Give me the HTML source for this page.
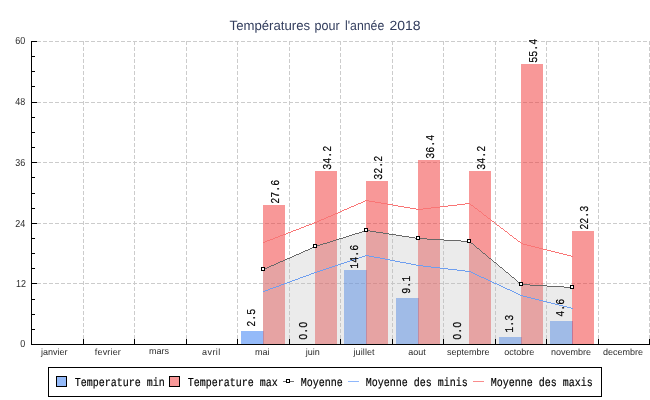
<!DOCTYPE html>
<html><head><meta charset="utf-8"><title>Températures pour l'année 2018</title>
<style>
html,body{margin:0;padding:0;background:#fff}
body{width:650px;height:400px;overflow:hidden;position:relative}
svg{display:block;position:absolute;left:0;top:0;will-change:transform}
text{font-family:"Liberation Sans",sans-serif;text-rendering:geometricPrecision}
.m{font-family:"Liberation Mono",monospace;font-size:10px;fill:#000;text-rendering:geometricPrecision;stroke:#000;stroke-width:0.14px}
.xl{font-size:9px;fill:#2c2c2c;text-anchor:middle}
.yl{font-size:10.2px;fill:#2c2c2c;text-anchor:end}
.ce{shape-rendering:crispEdges}
</style></head><body>
<svg width="650" height="400" viewBox="0 0 650 400">
<rect x="0" y="0" width="650" height="400" fill="#ffffff"/>
<text transform="translate(229.6 30.2) scale(0.990 1)" font-size="13.3px" fill="#323d5d">Températures</text>
<text transform="translate(314.4 30.2) scale(0.946 1)" font-size="13.3px" fill="#323d5d">pour</text>
<text transform="translate(345.0 30.2) scale(0.924 1)" font-size="13.3px" fill="#323d5d">l'année</text>
<text transform="translate(389.4 30.2) scale(1.055 1)" font-size="13.3px" fill="#323d5d">2018</text>
<g class="ce" stroke="#cccccc" stroke-width="1" stroke-dasharray="4 2" fill="none">
<line x1="31" y1="41.5" x2="650" y2="41.5"/>
<line x1="31" y1="102.5" x2="650" y2="102.5"/>
<line x1="31" y1="162.5" x2="650" y2="162.5"/>
<line x1="31" y1="223.5" x2="650" y2="223.5"/>
<line x1="31" y1="283.5" x2="650" y2="283.5"/>
<line x1="83.5" y1="41" x2="83.5" y2="344"/>
<line x1="134.5" y1="41" x2="134.5" y2="344"/>
<line x1="186.5" y1="41" x2="186.5" y2="344"/>
<line x1="237.5" y1="41" x2="237.5" y2="344"/>
<line x1="289.5" y1="41" x2="289.5" y2="344"/>
<line x1="340.5" y1="41" x2="340.5" y2="344"/>
<line x1="392.5" y1="41" x2="392.5" y2="344"/>
<line x1="443.5" y1="41" x2="443.5" y2="344"/>
<line x1="495.5" y1="41" x2="495.5" y2="344"/>
<line x1="546.5" y1="41" x2="546.5" y2="344"/>
<line x1="598.5" y1="41" x2="598.5" y2="344"/>
<line x1="649.5" y1="41" x2="649.5" y2="344"/>
</g>
<g class="ce">
<rect x="241" y="331" width="23" height="13" fill="rgba(41,117,243,0.5)"/>
<rect x="263" y="205" width="22" height="139" fill="rgba(241,49,49,0.5)"/>
<rect x="315" y="171" width="22" height="173" fill="rgba(241,49,49,0.5)"/>
<rect x="344" y="270" width="23" height="74" fill="rgba(41,117,243,0.5)"/>
<rect x="366" y="181" width="22" height="163" fill="rgba(241,49,49,0.5)"/>
<rect x="396" y="298" width="23" height="46" fill="rgba(41,117,243,0.5)"/>
<rect x="418" y="160" width="22" height="184" fill="rgba(241,49,49,0.5)"/>
<rect x="469" y="171" width="22" height="173" fill="rgba(241,49,49,0.5)"/>
<rect x="499" y="337" width="23" height="7" fill="rgba(41,117,243,0.5)"/>
<rect x="521" y="64" width="22" height="280" fill="rgba(241,49,49,0.5)"/>
<rect x="550" y="321" width="23" height="23" fill="rgba(41,117,243,0.5)"/>
<rect x="572" y="231" width="22" height="113" fill="rgba(241,49,49,0.5)"/>
</g>
<polygon points="263,344 263.00,269.50 315.50,246.50 366.50,230.50 418.50,238.50 469.50,241.50 521.50,284.50 572.50,287.50 572,344" fill="rgb(190,190,190)" fill-opacity="0.3" class="ce"/>
<path d="M365 200.5h4M363 201.5h2M369 201.5h6M361 202.5h2M375 202.5h6M358 203.5h3M381 203.5h6M465 203.5h5M356 204.5h2M387 204.5h6M457 204.5h8M470 204.5h1M354 205.5h2M393 205.5h5M448 205.5h9M471 205.5h2M351 206.5h3M398 206.5h6M440 206.5h8M473 206.5h1M349 207.5h2M404 207.5h6M431 207.5h9M474 207.5h1M347 208.5h2M410 208.5h6M423 208.5h8M475 208.5h2M344 209.5h3M416 209.5h7M477 209.5h1M342 210.5h2M478 210.5h1M340 211.5h2M479 211.5h2M338 212.5h2M481 212.5h1M335 213.5h3M482 213.5h1M333 214.5h2M483 214.5h1M331 215.5h2M484 215.5h2M328 216.5h3M486 216.5h1M326 217.5h2M487 217.5h1M324 218.5h2M488 218.5h2M321 219.5h3M490 219.5h1M319 220.5h2M491 220.5h1M317 221.5h2M492 221.5h2M314 222.5h3M494 222.5h1M312 223.5h2M495 223.5h1M309 224.5h3M496 224.5h1M306 225.5h3M497 225.5h2M304 226.5h2M499 226.5h1M301 227.5h3M500 227.5h1M299 228.5h2M501 228.5h2M296 229.5h3M503 229.5h1M293 230.5h3M504 230.5h1M291 231.5h2M505 231.5h2M288 232.5h3M507 232.5h1M286 233.5h2M508 233.5h1M283 234.5h3M509 234.5h1M280 235.5h3M510 235.5h2M278 236.5h2M512 236.5h1M275 237.5h3M513 237.5h1M273 238.5h2M514 238.5h2M270 239.5h3M516 239.5h1M267 240.5h3M517 240.5h1M265 241.5h2M518 241.5h2M263 242.5h2M520 242.5h1M521 243.5h2M523 244.5h4M527 245.5h4M531 246.5h4M535 247.5h4M539 248.5h4M543 249.5h4M547 250.5h4M551 251.5h4M555 252.5h4M559 253.5h4M563 254.5h4M567 255.5h4M571 256.5h2" fill="none" stroke="#f97575" stroke-width="1" class="ce"/>
<path d="M365 255.5h4M362 256.5h3M369 256.5h5M359 257.5h3M374 257.5h6M356 258.5h3M380 258.5h5M353 259.5h3M385 259.5h5M350 260.5h3M390 260.5h5M347 261.5h3M395 261.5h5M344 262.5h3M400 262.5h6M341 263.5h3M406 263.5h5M338 264.5h3M411 264.5h5M335 265.5h3M416 265.5h7M332 266.5h3M423 266.5h8M329 267.5h3M431 267.5h9M326 268.5h3M440 268.5h8M323 269.5h3M448 269.5h9M320 270.5h3M457 270.5h8M317 271.5h3M465 271.5h6M314 272.5h3M471 272.5h2M311 273.5h3M473 273.5h2M309 274.5h2M475 274.5h2M306 275.5h3M477 275.5h2M303 276.5h3M479 276.5h2M300 277.5h3M481 277.5h3M298 278.5h2M484 278.5h2M295 279.5h3M486 279.5h2M292 280.5h3M488 280.5h2M290 281.5h2M490 281.5h2M287 282.5h3M492 282.5h2M284 283.5h3M494 283.5h3M281 284.5h3M497 284.5h2M279 285.5h2M499 285.5h2M276 286.5h3M501 286.5h2M273 287.5h3M503 287.5h2M270 288.5h3M505 288.5h2M268 289.5h2M507 289.5h3M265 290.5h3M510 290.5h2M263 291.5h2M512 291.5h2M514 292.5h2M516 293.5h2M518 294.5h2M520 295.5h3M523 296.5h4M527 297.5h4M531 298.5h4M535 299.5h4M539 300.5h4M543 301.5h4M547 302.5h4M551 303.5h4M555 304.5h4M559 305.5h4M563 306.5h4M567 307.5h4M571 308.5h2" fill="none" stroke="#6e9eef" stroke-width="1" class="ce"/>
<path d="M365 230.5h5M362 231.5h3M370 231.5h6M359 232.5h3M376 232.5h7M355 233.5h4M383 233.5h6M352 234.5h3M389 234.5h7M349 235.5h3M396 235.5h6M346 236.5h3M402 236.5h7M343 237.5h3M409 237.5h6M339 238.5h4M415 238.5h12M336 239.5h3M427 239.5h17M333 240.5h3M444 240.5h17M330 241.5h3M461 241.5h9M327 242.5h3M470 242.5h1M323 243.5h4M471 243.5h2M320 244.5h3M473 244.5h1M317 245.5h3M474 245.5h1M314 246.5h3M475 246.5h1M312 247.5h2M476 247.5h1M310 248.5h2M477 248.5h2M308 249.5h2M479 249.5h1M305 250.5h3M480 250.5h1M303 251.5h2M481 251.5h1M301 252.5h2M482 252.5h1M299 253.5h2M483 253.5h2M296 254.5h3M485 254.5h1M294 255.5h2M486 255.5h1M292 256.5h2M487 256.5h1M290 257.5h2M488 257.5h1M287 258.5h3M489 258.5h2M285 259.5h2M491 259.5h1M283 260.5h2M492 260.5h1M280 261.5h3M493 261.5h1M278 262.5h2M494 262.5h2M276 263.5h2M496 263.5h1M274 264.5h2M497 264.5h1M271 265.5h3M498 265.5h1M269 266.5h2M499 266.5h1M267 267.5h2M500 267.5h2M265 268.5h2M502 268.5h1M263 269.5h2M503 269.5h1M504 270.5h1M505 271.5h1M506 272.5h2M508 273.5h1M509 274.5h1M510 275.5h1M511 276.5h1M512 277.5h2M514 278.5h1M515 279.5h1M516 280.5h1M517 281.5h1M518 282.5h2M520 283.5h1M521 284.5h9M530 285.5h17M547 286.5h17M564 287.5h9" fill="none" stroke="#686868" stroke-width="1" class="ce"/>
<g class="ce" fill="#fff" stroke="#000" stroke-width="1">
<rect x="261.5" y="267.5" width="3" height="3"/>
<rect x="313.5" y="244.5" width="3" height="3"/>
<rect x="364.5" y="228.5" width="3" height="3"/>
<rect x="416.5" y="236.5" width="3" height="3"/>
<rect x="467.5" y="239.5" width="3" height="3"/>
<rect x="519.5" y="282.5" width="3" height="3"/>
<rect x="570.5" y="285.5" width="3" height="3"/>
</g>
<text class="m" transform="translate(250.0 317.8) rotate(-90) scale(1 1.2)" text-anchor="middle" x="0" y="3.8">2.5</text>
<text class="m" transform="translate(274.0 191.8) rotate(-90) scale(1 1.2)" text-anchor="middle" x="0" y="3.8">27.6</text>
<text class="m" transform="translate(302.0 330.8) rotate(-90) scale(1 1.2)" text-anchor="middle" x="0" y="3.8">O.O</text>
<text class="m" transform="translate(326.0 157.8) rotate(-90) scale(1 1.2)" text-anchor="middle" x="0" y="3.8">34.2</text>
<text class="m" transform="translate(353.0 256.8) rotate(-90) scale(1 1.2)" text-anchor="middle" x="0" y="3.8">14.6</text>
<text class="m" transform="translate(377.0 167.8) rotate(-90) scale(1 1.2)" text-anchor="middle" x="0" y="3.8">32.2</text>
<text class="m" transform="translate(405.0 284.8) rotate(-90) scale(1 1.2)" text-anchor="middle" x="0" y="3.8">9.1</text>
<text class="m" transform="translate(429.0 146.8) rotate(-90) scale(1 1.2)" text-anchor="middle" x="0" y="3.8">36.4</text>
<text class="m" transform="translate(456.0 330.8) rotate(-90) scale(1 1.2)" text-anchor="middle" x="0" y="3.8">O.O</text>
<text class="m" transform="translate(480.0 157.8) rotate(-90) scale(1 1.2)" text-anchor="middle" x="0" y="3.8">34.2</text>
<text class="m" transform="translate(508.0 323.8) rotate(-90) scale(1 1.2)" text-anchor="middle" x="0" y="3.8">1.3</text>
<text class="m" transform="translate(532.0 50.8) rotate(-90) scale(1 1.2)" text-anchor="middle" x="0" y="3.8">55.4</text>
<text class="m" transform="translate(559.0 307.8) rotate(-90) scale(1 1.2)" text-anchor="middle" x="0" y="3.8">4.6</text>
<text class="m" transform="translate(583.0 217.8) rotate(-90) scale(1 1.2)" text-anchor="middle" x="0" y="3.8">22.3</text>
<g class="ce" stroke="#000" stroke-width="1" fill="none">
<line x1="31.5" y1="41" x2="31.5" y2="345"/>
<line x1="31" y1="344.5" x2="650" y2="344.5"/>
<line x1="31" y1="329.5" x2="35" y2="329.5"/>
<line x1="31" y1="314.5" x2="35" y2="314.5"/>
<line x1="31" y1="299.5" x2="35" y2="299.5"/>
<line x1="31" y1="283.5" x2="37" y2="283.5"/>
<line x1="31" y1="268.5" x2="35" y2="268.5"/>
<line x1="31" y1="253.5" x2="35" y2="253.5"/>
<line x1="31" y1="238.5" x2="35" y2="238.5"/>
<line x1="31" y1="223.5" x2="37" y2="223.5"/>
<line x1="31" y1="208.5" x2="35" y2="208.5"/>
<line x1="31" y1="193.5" x2="35" y2="193.5"/>
<line x1="31" y1="177.5" x2="35" y2="177.5"/>
<line x1="31" y1="162.5" x2="37" y2="162.5"/>
<line x1="31" y1="147.5" x2="35" y2="147.5"/>
<line x1="31" y1="132.5" x2="35" y2="132.5"/>
<line x1="31" y1="117.5" x2="35" y2="117.5"/>
<line x1="31" y1="102.5" x2="37" y2="102.5"/>
<line x1="31" y1="86.5" x2="35" y2="86.5"/>
<line x1="31" y1="71.5" x2="35" y2="71.5"/>
<line x1="31" y1="56.5" x2="35" y2="56.5"/>
<line x1="31" y1="41.5" x2="37" y2="41.5"/>
<line x1="83.5" y1="339" x2="83.5" y2="344"/>
<line x1="134.5" y1="339" x2="134.5" y2="344"/>
<line x1="186.5" y1="339" x2="186.5" y2="344"/>
<line x1="237.5" y1="339" x2="237.5" y2="344"/>
<line x1="289.5" y1="339" x2="289.5" y2="344"/>
<line x1="340.5" y1="339" x2="340.5" y2="344"/>
<line x1="392.5" y1="339" x2="392.5" y2="344"/>
<line x1="443.5" y1="339" x2="443.5" y2="344"/>
<line x1="495.5" y1="339" x2="495.5" y2="344"/>
<line x1="546.5" y1="339" x2="546.5" y2="344"/>
<line x1="598.5" y1="339" x2="598.5" y2="344"/>
<line x1="649.5" y1="339" x2="649.5" y2="344"/>
</g>
<text class="yl" transform="translate(25.2 347.2) scale(0.88 1)" x="0" y="0">0</text>
<text class="yl" transform="translate(25.9 287.1) scale(0.88 1)" x="0" y="0">12</text>
<text class="yl" transform="translate(25.2 227.1) scale(0.88 1)" x="0" y="0">24</text>
<text class="yl" transform="translate(25.2 165.8) scale(0.88 1)" x="0" y="0">36</text>
<text class="yl" transform="translate(25.2 105.2) scale(0.88 1)" x="0" y="0">48</text>
<text class="yl" transform="translate(25.2 44.2) scale(0.88 1)" x="0" y="0">60</text>
<text class="xl" x="54.3" y="355.0">janvier</text>
<text class="xl" x="107.9" y="355.0" letter-spacing="0.18">fevrier</text>
<text class="xl" x="158.9" y="354.0">mars</text>
<text class="xl" x="211.4" y="355.0" letter-spacing="0.45">avril</text>
<text class="xl" x="262.3" y="355.0">mai</text>
<text class="xl" x="312.8" y="355.0">juin</text>
<text class="xl" x="364.1" y="355.0" letter-spacing="0.10">juillet</text>
<text class="xl" x="417.0" y="355.0">aout</text>
<text class="xl" x="468.3" y="355.0">septembre</text>
<text class="xl" x="519.2" y="355.0">octobre</text>
<text class="xl" x="571.0" y="355.0">novembre</text>
<text class="xl" x="623.0" y="355.0">decembre</text>
<rect class="ce" x="48.5" y="367.5" width="553" height="29" fill="#fff" stroke="#000" stroke-width="1"/>
<rect class="ce" x="56.5" y="376.5" width="10" height="10" fill="rgba(41,117,243,0.5)" stroke="#000"/>
<rect class="ce" x="169.5" y="376.5" width="10" height="10" fill="rgba(241,49,49,0.5)" stroke="#000"/>
<text class="m" transform="translate(74.8 385.7) scale(1 1.2)" x="0" y="0">Temperature min</text>
<text class="m" transform="translate(187.8 385.7) scale(1 1.2)" x="0" y="0">Temperature max</text>
<line class="ce" x1="283" y1="381.5" x2="294" y2="381.5" stroke="#707070"/>
<rect class="ce" x="286.5" y="379.5" width="3" height="3" fill="#fff" stroke="#000"/>
<text class="m" transform="translate(300.8 385.7) scale(1 1.2)" x="0" y="0">Moyenne</text>
<line class="ce" x1="348" y1="381.5" x2="359" y2="381.5" stroke="#8fb7fb"/>
<text class="m" transform="translate(365.8 385.7) scale(1 1.2)" x="0" y="0">Moyenne des minis</text>
<line class="ce" x1="473" y1="381.5" x2="484" y2="381.5" stroke="#f98c8c"/>
<text class="m" transform="translate(490.8 385.7) scale(1 1.2)" x="0" y="0">Moyenne des maxis</text>
</svg>
</body></html>
